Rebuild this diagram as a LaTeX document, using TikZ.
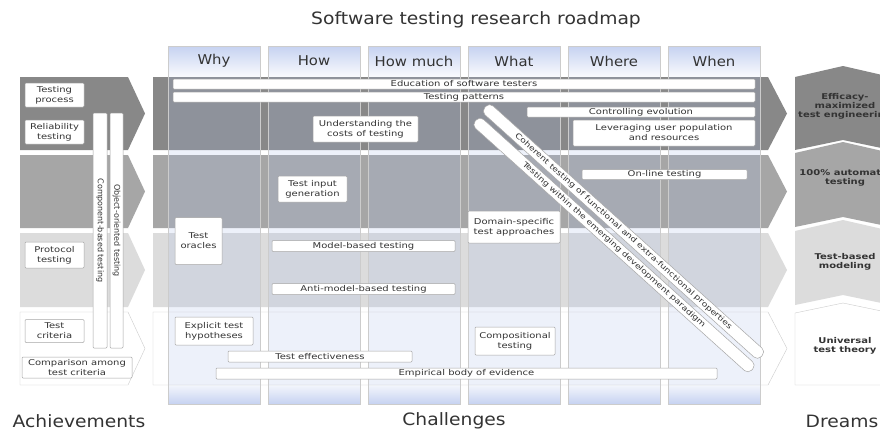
\documentclass[tikz,border=0pt]{standalone}
\usepackage{fontspec}
\setmainfont{DejaVu Sans}[FakeStretch=1.25]
\newfontfamily\roadbig{DejaVu Sans}[FakeStretch=1.1]
\newfontfamily\roadplain{DejaVu Sans}
\definecolor{colblue}{HTML}{C6D2F1}
\definecolor{colwash}{HTML}{A8BAE8}
\definecolor{bandone}{HTML}{888888}
\definecolor{bandtwo}{HTML}{A6A6A6}
\definecolor{bandthree}{HTML}{DCDCDC}
\definecolor{inkgray}{HTML}{333333}
\begin{document}
\begin{tikzpicture}[x=1pt, y=-1pt,
  font=\fontsize{8}{10}\selectfont,
  box/.style={draw=gray!70, fill=white, rounded corners=1pt, inner sep=1pt, align=center, text=inkgray, line width=0.5pt},
  bar/.style={box, minimum height=10pt, inner sep=0pt},
  diag/.style={box, rotate=-42, minimum width=372pt, minimum height=12pt, inner sep=0pt, rounded corners=5pt, font=\fontsize{7.5}{9}\selectfont},
  vbar/.style={box, rotate=-90, minimum width=235pt, inner sep=0pt, font=\roadplain\fontsize{8}{9}\selectfont},
  head/.style={font=\roadbig\fontsize{13.5}{16}\selectfont, text=inkgray},
  bigcap/.style={font=\roadbig\fontsize{17}{20}\selectfont, text=inkgray},
  dream/.style={font=\bfseries\fontsize{8}{9}\selectfont, align=center, text=inkgray}]
  \useasboundingbox (0,0) rectangle (880,432);
  \fill[white] (0,0) rectangle (880,432);
  \clip (0,0) rectangle (880,432);
  % columns
  \foreach \i in {0,...,5} {
    \shade[top color=colblue, bottom color=white] ({168+100*\i},46) rectangle ({260+100*\i},80);
    \shade[top color=white, bottom color=colblue] ({168+100*\i},380) rectangle ({260+100*\i},404);
  };
  % bands
  \foreach \t/\b/\c in {77/150/bandone, 155/228/bandtwo, 233/307/bandthree} {
    \fill[\c] (20,\t) -- (128,\t) -- (145,{(\t+\b)/2}) -- (128,\b) -- (20,\b) -- cycle;
    \fill[\c] (153,\t) -- (768,\t) -- (787,{(\t+\b)/2}) -- (768,\b) -- (153,\b) -- cycle;
  };
  \draw[gray!40, fill=white] (20,312) -- (128,312) -- (145,348.5) -- (128,385) -- (20,385) -- cycle;
  \draw[gray!40, fill=white] (153,312) -- (768,312) -- (787,348.5) -- (768,385) -- (153,385) -- cycle;
  % dreams
  \foreach \t/\b/\c in {77/150/bandone, 153/227/bandtwo, 231/305/bandthree} {
    \fill[\c] (795,\t) -- (843,{\t-11}) -- (891,\t) -- (891,\b) -- (843,{\b-10}) -- (795,\b) -- cycle;
  };
  \draw[gray!40, fill=white] (795,313) -- (843,303) -- (891,313) -- (891,385) -- (795,385) -- cycle;
  % column wash and headers
  \foreach \i/\w in {0/Why, 1/How, 2/How much, 3/What, 4/Where, 5/When} {
    \fill[colwash, fill opacity=0.2] ({168+100*\i},77) rectangle ({260+100*\i},385);
    \draw[gray!40] ({168+100*\i},46) rectangle ({260+100*\i},404);
    \node[head] (h\i) at ({214+100*\i},61) {\w};
  };
  % achievements
  \node[box, minimum width=59pt, minimum height=24pt] (tproc) at (54.5,95) {Testing\\process};
  \node[box, minimum width=59pt, minimum height=24pt] (rel) at (54.5,132) {Reliability\\testing};
  \node[box, minimum width=59pt, minimum height=26pt] (prot) at (54.5,255) {Protocol\\testing};
  \node[box, minimum width=59pt, minimum height=23pt] (tcrit) at (54.5,331) {Test\\criteria};
  \node[box, minimum width=110pt, minimum height=21pt] (cmpcrit) at (77,367.5) {Comparison among\\test criteria};
  \node[vbar, minimum height=14pt] (cbt) at (100,230.5) {Component-based testing};
  \node[vbar, minimum height=13pt] (oot) at (116.5,230.5) {Object-oriented testing};
  % challenges
  \node[bar, minimum width=582pt] (edu) at (464,84) {Education of software testers};
  \node[bar, minimum width=582pt] (pat) at (464,97) {Testing patterns};
  \node[bar, minimum width=228pt] (evol) at (641,112) {Controlling evolution};
  \node[box, minimum width=182pt, minimum height=26pt] (lev) at (664,133) {Leveraging user population\\and resources};
  \node[box, minimum width=105pt, minimum height=26pt] (cost) at (365.5,129) {Understanding the\\costs of testing};
  \node[box, minimum width=69pt, minimum height=26pt] (tig) at (312.5,189) {Test input\\generation};
  \node[bar, minimum width=165pt] (online) at (664.5,174.5) {On-line testing};
  \node[box, minimum width=92pt, minimum height=32pt] (dom) at (514,227) {Domain-specific\\test approaches};
  \node[box, minimum width=47pt, minimum height=47pt] (orac) at (198.5,241) {Test\\oracles};
  \node[bar, minimum width=183pt, minimum height=11pt] (mbt) at (363.5,246) {Model-based testing};
  \node[bar, minimum width=183pt, minimum height=11pt] (ambt) at (363.5,289) {Anti-model-based testing};
  \node[box, minimum width=78pt, minimum height=28pt] (hyp) at (214,331) {Explicit test\\hypotheses};
  \node[box, minimum width=80pt, minimum height=28pt] (compo) at (515,341) {Compositional\\testing};
  \node[bar, minimum width=184pt, minimum height=11pt] (eff) at (320,356.5) {Test effectiveness};
  \node[bar, minimum width=501pt, minimum height=11pt] (emp) at (466.5,373.5) {Empirical body of evidence};
  \node[diag] (coh) at (623.5,231.5) {Coherent testing of functional and extra-functional properties};
  \node[diag] (para) at (614,245) {Testing within the emerging development paradigm};
  % dreams text
  \node[dream] (d1) at (845,106) {Efficacy-\\maximized\\test engineering};
  \node[dream] (d2) at (845,178) {100\% automatic\\testing};
  \node[dream] (d3) at (845,262) {Test-based\\modeling};
  \node[dream] (d4) at (845,346) {Universal\\test theory};
  % captions
  \node[bigcap] (ttl) at (476,20) {Software testing research roadmap};
  \node[bigcap] (ach) at (79,421) {Achievements};
  \node[bigcap] (chal) at (454,421) {Challenges};
  \node[bigcap] (drm) at (842,421) {Dreams};
\end{tikzpicture}
\end{document}
